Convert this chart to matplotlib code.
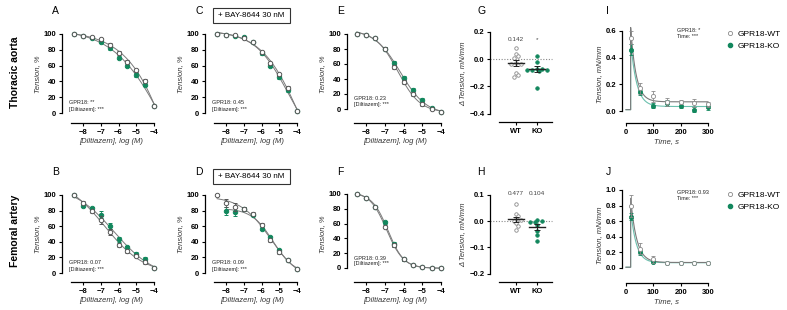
import numpy as np
import matplotlib.pyplot as plt
from matplotlib.lines import Line2D
from matplotlib.patches import Rectangle

plt.rcParams['font.family'] = ['Liberation Sans', 'DejaVu Sans']

W, H = 787, 310
fig = plt.figure(figsize=(W / 100, H / 100), dpi=100)

GREEN = '#12875d'
TEAL = '#6cc0ae'
EDGE = '#555555'
LINE = '#7a7a7a'

# ---- data ----
log_dil = [-8.5, -8, -7.5, -7, -6.5, -6, -5.5, -5, -4.5, -4]

# tension, % (WT open circles / KO green dots)
A_wt = [100, 98, 96, 94, 86, 76, 65, 54, 41, 9]
A_ko = [100, 98, 95, 90, 82, 70, 60, 48, 36, 9]
C_wt = [100, 99, 99, 95, 90, 77, 63, 49, 32, 3]
C_ko = [100, 99, 98, 96, 90, 76, 60, 45, 29, 3]
E_wt = [100, 99, 95, 80, 56, 36, 20, 7, 0, -4]
E_ko = [100, 99, 95, 80, 61, 41, 25, 12, 1, -4]
B_wt = [100, 90, 79, 68, 53, 36, 28, 22, 14, 6]
B_ko = [100, 86, 83, 75, 60, 43, 33, 25, 18, 6]
D_wt = [100, 90, 85, 82, 76, 62, 42, 27, 17, 5]
D_ko = [np.nan, 80, 78, 82, 75, 57, 46, 29, 17, 5]
F_wt = [100, 95, 83, 56, 31, 12, 4, 1, 0, 0]
F_ko = [100, 95, 83, 62, 32, 12, 4, 1, 0, 0]

A_err = [1, 1, 1, 1, 2, 2, 2, 2, 2, 1]
C_err = [1, 1, 1, 1, 1, 2, 2, 2, 2, 1]
E_err = [1, 1, 1, 2, 3, 3, 3, 3, 1, 1]
B_err = [1, 2, 2, 5, 4, 3, 2, 2, 2, 1]
D_err = [1, 5, 5, 2, 2, 2, 2, 2, 1, 1]
F_err = [1, 1, 1, 2, 3, 2, 1, 1, 1, 1]

# delta tension, mN/mm
G_wt = [0.08, 0.04, 0.02, 0.01, -0.03, -0.04, -0.04, -0.10, -0.12, -0.13]
G_ko = [0.02, -0.02, -0.07, -0.07, -0.08, -0.08, -0.08, -0.09, -0.21]
H_wt = [0.063, 0.025, 0.019, 0.008, 0.004, 0.0, -0.009, -0.02, -0.034]
H_ko = [0.005, 0.0, -0.002, -0.005, -0.015, -0.038, -0.052, -0.077]

# tension over time, mN/mm
time_s = [20, 50, 100, 150, 200, 250, 300]
I_wt = [0.55, 0.17, 0.11, 0.07, 0.07, 0.06, 0.05]
I_ko = [0.46, 0.14, 0.04, 0.06, 0.04, 0.01, 0.03]
I_wt_err = [0.05, 0.04, 0.04, 0.03, 0.015, 0.03, 0.02]
I_ko_err = [0.04, 0.02, 0.02, 0.02, 0.02, 0.02, 0.02]
J_wt = [0.79, 0.25, 0.11, 0.07, 0.065, 0.065, 0.07]
J_ko = [0.66, 0.20, 0.08, 0.07, 0.065, 0.065, 0.07]
J_wt_err = [0.14, 0.07, 0.04, 0.01, 0.01, 0.01, 0.01]
J_ko_err = [0.05, 0.03, 0.01, 0.01, 0.01, 0.01, 0.01]
baseline = 0.01


def place(box, xa, ya):
    # box = left, top, right, bottom in px; xa/ya = ((px, value), (px, value))
    l, t, r, b = box
    sx = (xa[1][0] - xa[0][0]) / (xa[1][1] - xa[0][1])
    sy = (ya[1][0] - ya[0][0]) / (ya[1][1] - ya[0][1])
    ax = fig.add_axes([l / W, 1 - b / H, (r - l) / W, (b - t) / H])
    ax.set_xlim(xa[0][1] + (l - xa[0][0]) / sx, xa[0][1] + (r - xa[0][0]) / sx)
    ax.set_ylim(ya[0][1] + (b - ya[0][0]) / sy, ya[0][1] + (t - ya[0][0]) / sy)
    ax.patch.set_alpha(0)
    for s in ['top', 'right']:
        ax.spines[s].set_visible(False)
    for s in ['left', 'bottom']:
        ax.spines[s].set_linewidth(0.9)
    ax.tick_params(length=2.5, width=0.8, pad=1.5, labelsize=5.5)
    return ax


def bold_ticks(ax):
    for lab in ax.get_xticklabels() + ax.get_yticklabels():
        lab.set_fontweight('bold')


def fit_4pl(x, y):
    x = np.asarray(x, float)
    y = np.asarray(y, float)
    ok = ~np.isnan(y)
    x, y = x[ok], y[ok]
    c = np.linspace(-10, -2, 321)[:, None, None]
    h = np.linspace(0.3, 3, 271)[None, :, None]
    s = 1 / (1 + 10 ** ((x - c) * h))
    sm = s.mean(-1, keepdims=True)
    ym = y.mean()
    with np.errstate(all='ignore'):
        span = ((s - sm) * (y - ym)).sum(-1, keepdims=True) / ((s - sm) ** 2).sum(-1, keepdims=True)
        bot = ym - span * sm
        sse = ((bot + span * s - y) ** 2).sum(-1)
    i, j = np.unravel_index(np.nanargmin(sse), sse.shape)
    cc, hh, b0, sp = c[i, 0, 0], h[0, j, 0], bot[i, j, 0], span[i, j, 0]
    return lambda xx: b0 + sp / (1 + 10 ** ((xx - cc) * hh)), x.min()


def fit_decay(t, y, t0):
    t = np.asarray(t, float)
    y = np.asarray(y, float)
    k = np.linspace(0.005, 0.3, 600)[:, None]
    e = np.exp(-k * (t - t0))
    em = e.mean(-1, keepdims=True)
    ym = y.mean()
    span = ((e - em) * (y - ym)).sum(-1, keepdims=True) / ((e - em) ** 2).sum(-1, keepdims=True)
    plat = ym - span * em
    sse = ((plat + span * e - y) ** 2).sum(-1)
    i = np.argmin(sse)
    kk, p, sp = k[i, 0], plat[i, 0], span[i, 0]
    return lambda tt: p + sp * np.exp(-kk * (tt - t0))


def dose_panel(box, xa, ya, letter, wt, ko, err, stat, bay=False):
    ax = place(box, xa, ya)
    for ys, face, edge, z in [(ko, GREEN, GREEN, 3), (wt, 'white', EDGE, 4)]:
        f, x0 = fit_4pl(log_dil, ys)
        xx = np.linspace(x0, -4, 200)
        ax.plot(xx, f(xx), color=LINE, lw=0.7, zorder=2)
        ax.errorbar(log_dil, ys, yerr=err, fmt='o', ms=3.2, mfc=face, mec=edge, mew=0.7,
                    ecolor=edge, elinewidth=0.6, capsize=1.2, capthick=0.6, zorder=z)
    ax.spines['left'].set_bounds(0, 100)
    ax.spines['bottom'].set_bounds(-8.65, -4)
    ax.set_yticks([0, 20, 40, 60, 80, 100])
    ax.set_xticks([-8, -7, -6, -5, -4])
    bold_ticks(ax)
    ax.set_ylabel('Tension, %', fontsize=5.5, style='italic', color='#333', labelpad=2)
    ax.set_xlabel('[Diltiazem], log (M)', fontsize=5.5, style='italic', color='#333', labelpad=1.5)
    l, t, r, b = box
    fig.text((l - 10) / W, 1 - (t - 15) / H, letter, fontsize=7.5, va='center', ha='left')
    y0 = ya[0][0]
    fig.text((l + 7) / W, 1 - (y0 - 10) / H, 'GPR18: ' + stat, fontsize=4, va='center', color='#222')
    fig.text((l + 7) / W, 1 - (y0 - 4) / H, '[Diltiazem]: ***', fontsize=4, va='center', color='#222')
    if bay:
        fig.patches.append(Rectangle((213 / W, 1 - (t - 3) / H), 77 / W, 15 / H, transform=fig.transFigure,
                                     fill=False, lw=0.8, ec='#333'))
        fig.text(251 / W, 1 - (t - 10.5) / H, '+ BAY-8644 30 nM', fontsize=5.8, ha='center', va='center')
    return ax


dose_panel((62, 26, 160, 123), ((83, -8), (154, -4)), ((113, 0), (34, 100)), 'A', A_wt, A_ko, A_err, '**')
dose_panel((205, 26, 300, 123), ((226, -8), (297, -4)), ((113, 0), (34, 100)), 'C', C_wt, C_ko, C_err, '0.45', bay=True)
dose_panel((347, 26, 444, 123), ((366, -8), (441, -4)), ((109, 0), (34, 100)), 'E', E_wt, E_ko, E_err, '0.23')
dose_panel((62, 187, 160, 282), ((83, -8), (154, -4)), ((273, 0), (195, 100)), 'B', B_wt, B_ko, B_err, '0.07')
dose_panel((205, 187, 300, 282), ((226, -8), (297, -4)), ((273, 0), (195, 100)), 'D', D_wt, D_ko, D_err, '0.09', bay=True)
dose_panel((347, 187, 444, 282), ((366, -8), (441, -4)), ((268, 0), (194, 100)), 'F', F_wt, F_ko, F_err, '0.39')


def swarm(vals, px_per_unit, d_px, cat_px):
    order = np.argsort(vals)[::-1]
    placed = []
    offs = np.zeros(len(vals))
    for i in order:
        yv = vals[i] * px_per_unit
        for step in [0, 1, -1, 2, -2, 3, -3, 4, -4]:
            xo = step * d_px * 0.85
            if all((xo - px) ** 2 + (yv - py) ** 2 >= d_px ** 2 for px, py in placed):
                break
        placed.append((xo, yv))
        offs[i] = xo / cat_px
    return offs


def delta_panel(box, ya, letter, wt, ko, yticks, labels, label_y):
    ax = place(box, ((516, 0), (537, 1)), ya)
    ppu = (ya[0][0] - ya[1][0]) / (ya[1][1] - ya[0][1])
    ax.plot([ax.get_xlim()[0], 1.7], [0, 0], ls=(0, (1, 1.5)), color='#888', lw=0.8, zorder=1)
    for k, (vals, face, edge) in enumerate([(wt, 'white', '#8a8a8a'), (ko, GREEN, GREEN)]):
        v = np.asarray(vals)
        xs = k + swarm(v, ppu, 2.9, 21)
        ax.plot(xs, v, 'o', ms=2.5, mfc=face, mec=edge, mew=0.6, zorder=3)
        m = v.mean()
        se = v.std(ddof=1) / np.sqrt(len(v))
        ax.plot([k - 0.38, k + 0.38], [m, m], color='#222', lw=1.0, zorder=4)
        ax.errorbar([k], [m], yerr=[se], fmt='none', ecolor='#222', elinewidth=0.7, capsize=2.2,
                    capthick=0.7, zorder=4)
    ax.spines['left'].set_bounds(yticks[0], yticks[-1])
    ax.spines['bottom'].set_bounds(-0.8, 1.7)
    ax.set_yticks(yticks)
    ax.set_xticks([0, 1])
    ax.set_xticklabels(['WT', 'KO'])
    bold_ticks(ax)
    ax.set_ylabel('Δ Tension, mN/mm', fontsize=5.5, style='italic', color='#333', labelpad=2)
    for k, s in enumerate(labels):
        ax.text(k, label_y, s, fontsize=4.6, ha='center', va='center', color='#444')
    l, t, r, b = box
    fig.text((l - 13) / W, 1 - (t - 15) / H, letter, fontsize=7.5, va='center', ha='left')
    return ax


delta_panel((490, 26, 555, 122), ((59, 0), (31.7, 0.2)), 'G', G_wt, G_ko, [-0.4, -0.2, 0.0, 0.2],
            ['0.142', '*'], 0.143)
delta_panel((490, 187, 555, 282), ((221, 0), (194.7, 0.1)), 'H', H_wt, H_ko, [-0.2, -0.1, 0.0, 0.1],
            ['0.477', '0.104'], 0.103)


def time_panel(box, ya, letter, wt, ko, wt_err, ko_err, yticks, stat):
    ax = place(box, ((626, 0), (708, 300)), ya)
    t0 = 17
    for ys, err, face, edge, col, z in [(ko, ko_err, GREEN, GREEN, TEAL, 3),
                                       (wt, wt_err, 'white', '#8a8a8a', LINE, 4)]:
        f = fit_decay(time_s, ys, t0)
        tt = np.linspace(t0, 300, 300)
        ax.plot(np.r_[0, t0, tt], np.r_[baseline, baseline, f(tt)], color=col, lw=0.8, zorder=2)
        ax.errorbar(time_s, ys, yerr=err, fmt='o', ms=3, mfc=face, mec=edge, mew=0.6,
                    ecolor=edge, elinewidth=0.6, capsize=1.5, capthick=0.6, zorder=z)
    ax.spines['left'].set_bounds(yticks[0], yticks[-1])
    ax.spines['bottom'].set_bounds(0, 300)
    ax.set_yticks(yticks)
    ax.set_xticks([0, 100, 200, 300])
    bold_ticks(ax)
    ax.set_ylabel('Tension, mN/mm', fontsize=5.5, style='italic', color='#333', labelpad=2)
    ax.set_xlabel('Time, s', fontsize=5.5, style='italic', color='#333', labelpad=1.5)
    l, t, r, b = box
    fig.text((l - 16) / W, 1 - (t - 15) / H, letter, fontsize=7.5, va='center', ha='left')
    fig.text(677 / W, 1 - (t + 5) / H, 'GPR18: ' + stat, fontsize=4, va='center', color='#222')
    fig.text(677 / W, 1 - (t + 11) / H, 'Time: ***', fontsize=4, va='center', color='#222')
    handles = [Line2D([], [], ls='none', marker='o', ms=3, mfc='white', mec='#8a8a8a', mew=0.6),
               Line2D([], [], ls='none', marker='o', ms=3, mfc=GREEN, mec=GREEN)]
    fig.legend(handles, ['GPR18-WT', 'GPR18-KO'], loc='upper left', frameon=False, fontsize=6,
               bbox_to_anchor=(727 / W, 1 - (t + 4) / H), handlelength=0.8, handletextpad=0.5,
               labelspacing=0.5, borderaxespad=0, borderpad=0)
    return ax


time_panel((622, 26, 712, 123), ((111, 0), (31, 0.6)), 'I', I_wt, I_ko, I_wt_err, I_ko_err,
           [0.0, 0.2, 0.4, 0.6], '*')
time_panel((622, 187, 712, 283), ((268, 0), (190, 1.0)), 'J', J_wt, J_ko, J_wt_err, J_ko_err,
           [0.0, 0.2, 0.4, 0.6, 0.8, 1.0], '0.93')

fig.text(15 / W, 1 - 72 / H, 'Thoracic aorta', rotation=90, fontsize=7.5, fontweight='bold',
         ha='center', va='center')
fig.text(15 / W, 1 - 231 / H, 'Femoral artery', rotation=90, fontsize=7.5, fontweight='bold',
         ha='center', va='center')

fig.savefig('out.png', dpi=100)
